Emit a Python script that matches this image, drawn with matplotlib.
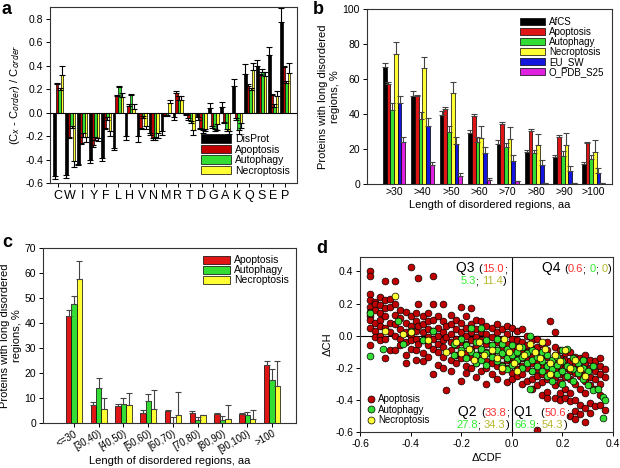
import matplotlib
matplotlib.use("Agg")
import matplotlib.pyplot as plt
import numpy as np
from matplotlib.offsetbox import TextArea, HPacker, VPacker, AnchoredOffsetbox
from matplotlib.lines import Line2D

plt.rcParams['font.family'] = ['Liberation Sans', 'DejaVu Sans']

# ---- panel a: relative composition per residue ----
residues = ['C', 'W', 'I', 'Y', 'F', 'L', 'H', 'V', 'N', 'M',
            'R', 'T', 'D', 'G', 'A', 'K', 'Q', 'S', 'E', 'P']
a_disprot = [-0.54, -0.53, -0.44, -0.40, -0.39, -0.30, -0.20, -0.20, -0.17, -0.16,
             -0.04, -0.01, -0.04, 0.04, 0.05, 0.23, 0.33, 0.40, 0.49, 0.77]
a_disprot_err = [0.03, 0.03, 0.01, 0.03, 0.02, 0.02, 0.03, 0.05, 0.02, 0.03,
                 0.02, 0.01, 0.02, 0.04, 0.04, 0.06, 0.08, 0.05, 0.07, 0.12]
a_apop = [0.24, -0.21, -0.26, -0.28, -0.13, 0.14, 0.06, -0.13, -0.22, -0.02,
          0.17, -0.05, -0.13, -0.11, -0.08, -0.05, 0.23, 0.32, 0.15, 0.39]
a_apop_err = [0.01, 0.01, 0.01, 0.01, 0.01, 0.01, 0.01, 0.01, 0.01, 0.01,
              0.01, 0.01, 0.01, 0.02, 0.01, 0.01, 0.01, 0.01, 0.01, 0.01]
a_auto = [0.19, -0.11, -0.17, -0.21, -0.04, 0.22, 0.15, -0.03, -0.21, -0.02,
          0.11, -0.07, -0.15, -0.14, -0.14, -0.15, 0.19, 0.35, 0.05, 0.25]
a_auto_err = [0.02, 0.02, 0.04, 0.02, 0.02, 0.01, 0.01, 0.02, 0.02, 0.01,
              0.03, 0.02, 0.02, 0.02, 0.02, 0.03, 0.02, 0.02, 0.02, 0.02]
a_necro = [0.32, -0.41, -0.21, -0.22, -0.16, 0.13, 0.03, -0.11, -0.17, 0.08,
           0.11, -0.15, -0.14, -0.10, -0.16, -0.09, 0.36, 0.31, 0.14, 0.34]
a_necro_err = [0.08, 0.05, 0.04, 0.02, 0.04, 0.04, 0.04, 0.03, 0.05, 0.03,
               0.03, 0.04, 0.02, 0.05, 0.02, 0.04, 0.06, 0.04, 0.04, 0.08]

# ---- panel b: proteins with long disordered regions ----
b_labels = ['>30', '>40', '>50', '>60', '>70', '>80', '>90', '>100']
b_afcs = [67, 50.5, 39.5, 29.4, 23, 18, 15.2, 11.4]
b_afcs_err = [2, 2.5, 2, 1.6, 2, 1.5, 1.3, 1.1]
b_apop = [57, 50, 43, 39, 34.3, 30.4, 27, 23.3]
b_apop_err = [1.5, 1, 1, 1, 1, 1.1, 1, 0.8]
b_auto = [42.5, 37, 29.6, 24, 21, 17.5, 16, 14.2]
b_auto_err = [3.5, 4, 3.4, 3, 2.7, 2, 2.6, 2.5]
b_necro = [74, 66.5, 52, 26, 25.6, 22, 22, 18.2]
b_necro_err = [7, 6, 6.5, 7.4, 7.2, 6.6, 7, 7]
b_eusw = [46, 33, 23, 17.6, 13, 10.6, 7.6, 6.3]
b_eusw_err = [4, 4.5, 4, 3.8, 3.7, 2.9, 2.4, 2.7]
b_pdb = [24, 11, 4.7, 2.5, 1.5, 0.6, 0.4, 0.4]
b_pdb_err = [3, 1.5, 1.6, 0.9, 0.3, 0.2, 0.1, 0.1]

# ---- panel c: distribution by length bin ----
c_labels = ['<=30', '[30,40)', '[40,50)', '[50,60)', '[60,70)',
            '[70,80)', '[80,90)', '[90,100)', '>100']
c_apop = [43, 7.3, 6.9, 4.1, 4.8, 4.0, 3.5, 3.7, 23.3]
c_apop_err = [2.3, 1.1, 0.8, 1.0, 0.3, 0.8, 0.6, 0.4, 1.7]
c_auto = [47.5, 14.1, 7.6, 8.7, 0.2, 1.3, 1.3, 3.3, 17.3]
c_auto_err = [3.5, 4.0, 2.4, 2.8, 2.3, 1.1, 1.4, 1.1, 4.4]
c_necro = [57.5, 5.7, 7.2, 5.7, 3.1, 3.1, 1.6, 1.6, 14.7]
c_necro_err = [7.3, 4.4, 4.8, 7.6, 9.2, 0.0, 5.5, 3.5, 10.0]

# ---- panel d: charge-hydropathy vs CDF (columns of points) ----
d_apop_cols = [
    (-0.56, [0.40, 0.37, 0.26, 0.22, 0.18, 0.15, 0.12, 0.10, 0.05, -0.06]),
    (-0.54, [0.21, 0.20, 0.16, 0.08, 0.03, -0.01]),
    (-0.52, [0.24, 0.19, 0.14, 0.10, 0.06, 0.00, -0.03]),
    (-0.50, [0.34, 0.22, 0.17, 0.12, 0.05, -0.02, -0.14]),
    (-0.48, [0.23, 0.18, 0.08, 0.02, -0.09]),
    (-0.46, [0.34, 0.20, 0.13, 0.07, 0.00, -0.09]),
    (-0.44, [0.16, 0.11, 0.04, -0.02, -0.06]),
    (-0.42, [0.15, 0.08, 0.02, -0.04, -0.12, -0.17]),
    (-0.40, [0.43, 0.12, 0.06, 0.00, -0.03, -0.08]),
    (-0.38, [0.14, 0.09, 0.03, -0.02, -0.09, -0.15]),
    (-0.37, [0.36, 0.20, 0.06, -0.05]),
    (-0.35, [0.12, 0.07, 0.02, -0.03, -0.11, -0.16]),
    (-0.33, [0.14, 0.09, 0.04, -0.01, -0.06, -0.13]),
    (-0.31, [0.37, 0.20, 0.10, 0.03, -0.02, -0.08, -0.24]),
    (-0.29, [0.12, 0.05, 0.00, -0.05, -0.10, -0.18]),
    (-0.27, [0.20, 0.09, 0.02, -0.03, -0.07, -0.13, -0.20]),
    (-0.26, [0.06, -0.01, -0.34]),
    (-0.24, [0.13, 0.07, 0.01, -0.04, -0.09, -0.15, -0.22]),
    (-0.22, [0.10, 0.04, -0.02, -0.06, -0.12, -0.17]),
    (-0.20, [0.18, 0.08, 0.02, -0.04, -0.10, -0.14, -0.28]),
    (-0.18, [0.12, 0.05, 0.00, -0.05, -0.11, -0.19, -0.23]),
    (-0.16, [0.17, 0.07, 0.02, -0.03, -0.08, -0.13, -0.20]),
    (-0.14, [0.10, 0.04, -0.01, -0.06, -0.12, -0.17, -0.26]),
    (-0.12, [0.09, 0.02, -0.03, -0.09, -0.14, -0.22]),
    (-0.10, [0.06, 0.01, -0.05, -0.10, -0.16, -0.20, -0.30]),
    (-0.08, [0.05, -0.01, -0.06, -0.12, -0.17, -0.24]),
    (-0.06, [0.07, 0.02, -0.04, -0.09, -0.14, -0.19, -0.27]),
    (-0.04, [0.04, -0.02, -0.07, -0.12, -0.18, -0.22]),
    (-0.02, [0.06, 0.01, -0.05, -0.10, -0.15, -0.20, -0.29]),
    (0.00, [0.05, -0.02, -0.08, -0.13, -0.17, -0.23, -0.27]),
    (0.02, [0.03, -0.03, -0.07, -0.11, -0.16, -0.21, -0.25]),
    (0.04, [0.04, -0.04, -0.09, -0.14, -0.19, -0.24, -0.30]),
    (0.06, [0.00, -0.06, -0.10, -0.15, -0.20, -0.28]),
    (0.08, [-0.03, -0.08, -0.13, -0.17, -0.22, -0.27, -0.33]),
    (0.10, [-0.02, -0.07, -0.11, -0.16, -0.21, -0.25, -0.31, -0.59]),
    (0.12, [-0.05, -0.10, -0.14, -0.19, -0.24, -0.29, -0.37]),
    (0.14, [-0.04, -0.09, -0.13, -0.18, -0.22, -0.27, -0.35, -0.39]),
    (0.15, [0.09]),
    (0.17, [0.025, -0.07, -0.12, -0.16, -0.21, -0.26, -0.31, -0.39]),
    (0.19, [-0.09, -0.14, -0.19, -0.24, -0.29, -0.36, -0.40]),
    (0.21, [-0.11, -0.15, -0.20, -0.26, -0.33, -0.39]),
    (0.23, [-0.10, -0.16, -0.22, -0.27, -0.36, -0.41, -0.50]),
    (0.25, [-0.13, -0.18, -0.23, -0.30, -0.40, -0.47, -0.52]),
    (0.27, [-0.14, -0.20, -0.25, -0.33, -0.43, -0.49]),
    (0.29, [-0.12, -0.17, -0.22, -0.28, -0.36, -0.45, -0.54]),
    (0.31, [-0.15, -0.20, -0.26, -0.31, -0.42, -0.48]),
    (0.33, [-0.16, -0.22, -0.27, -0.33, -0.44]),
    (0.35, [-0.14, -0.19, -0.24, -0.30, -0.37, -0.43]),
    (0.37, [-0.21, -0.26, -0.46]),
]
d_auto_cols = [
    (-0.56, [0.14, -0.125]), (-0.51, [-0.08]), (-0.45, [0.09]), (-0.43, [-0.05]),
    (-0.40, [0.03]), (-0.35, [-0.03]), (-0.31, [0.03]), (-0.23, [-0.05, -0.12]),
    (-0.20, [-0.02, -0.09]), (-0.18, [-0.06, -0.14]), (-0.16, [0.05, -0.10]),
    (-0.14, [-0.04, -0.12, -0.17]), (-0.12, [0.05, -0.08, -0.15]),
    (-0.10, [-0.03, -0.11, -0.18]), (-0.08, [-0.06, -0.13]),
    (-0.06, [-0.02, -0.09, -0.16]), (-0.04, [-0.05, -0.11, -0.19]),
    (-0.02, [-0.08, -0.14, -0.21]), (0.00, [-0.06, -0.12, -0.18]),
    (0.02, [-0.10, -0.15]), (0.04, [-0.07, -0.13, -0.20]), (0.06, [-0.11, -0.17]),
    (0.07, [-0.33, 0.00]), (0.08, [-0.09, -0.15, -0.22]), (0.10, [-0.13, -0.19]),
    (0.12, [-0.10, -0.16, -0.22]), (0.14, [-0.12, -0.19, -0.25]),
    (0.16, [-0.15, -0.21, -0.28]), (0.18, [-0.13, -0.18, -0.24]),
    (0.20, [-0.09, -0.16, -0.22, -0.30]), (0.22, [-0.08, -0.19, -0.25]),
    (0.24, [-0.14, -0.21, -0.28]), (0.26, [-0.17, -0.23]),
    (0.28, [-0.15, -0.20, -0.27]), (0.30, [-0.22, -0.31]), (0.32, [-0.19, -0.34]),
    (0.34, [-0.33]), (0.36, [-0.38, -0.51]), (0.37, [-0.40]),
]
d_necro_x = [-0.46, -0.50, -0.43, -0.40, -0.33, -0.26, -0.22, -0.20, -0.17, -0.15,
             -0.13, -0.11, -0.08, -0.06, -0.04, -0.03, -0.01, 0.01, 0.02, 0.03,
             0.05, 0.07, 0.09, 0.11, 0.12, 0.13, 0.15, 0.15, 0.17, 0.19,
             0.21, 0.23, 0.25, 0.27, 0.29]
d_necro_y = [0.25, 0.03, 0.01, 0.02, -0.03, -0.10, -0.04, -0.11, -0.08, -0.15,
             -0.04, -0.12, -0.09, -0.14, -0.20, -0.02, -0.10, -0.17, -0.22, -0.07,
             -0.12, -0.05, -0.10, -0.14, -0.04, -0.08, -0.17, -0.24, -0.12, -0.16,
             -0.09, -0.20, -0.15, -0.21, -0.25]

BLACK = '#000000'
RED = '#e01515'
GREEN = '#33dd33'
YELLOW = '#ffff33'
BLUE = '#1515e0'
MAGENTA = '#e020e0'
DRED = '#c00000'

fig = plt.figure(figsize=(6.2, 4.68), dpi=100)
W, H = 620.0, 468.0


def px_axes(left, top, right, bottom):
    return fig.add_axes([left / W, 1 - bottom / H, (right - left) / W, (bottom - top) / H])


def one_sided(vals, errs):
    vals = np.asarray(vals, float)
    errs = np.asarray(errs, float)
    lower = np.where(vals < 0, errs, 0)
    upper = np.where(vals >= 0, errs, 0)
    return [lower, upper]


def grouped_bars(ax, series, group_w, ecolor='black'):
    n = len(series)
    bw = group_w / n
    for i, (vals, errs, col, lab) in enumerate(series):
        x = np.arange(len(vals)) - group_w / 2 + bw * (i + 0.5)
        ax.bar(x, vals, bw, color=col, edgecolor='black', linewidth=0.5, label=lab, zorder=2)
        ax.errorbar(x, vals, yerr=one_sided(vals, errs), fmt='none', ecolor=ecolor,
                    elinewidth=0.8, capsize=2, capthick=0.8, zorder=3)


def style(ax):
    ax.tick_params(direction='out', length=3, width=0.7, labelsize=7.5, pad=2)
    for s in ax.spines.values():
        s.set_linewidth(0.8)
        s.set_color('#333333')


# panel a
ax = px_axes(50, 7, 297, 183)
grouped_bars(ax, [(a_disprot, a_disprot_err, BLACK, 'DisProt'),
                  (a_apop, a_apop_err, DRED, 'Apoptosis'),
                  (a_auto, a_auto_err, GREEN, 'Autophagy'),
                  (a_necro, a_necro_err, YELLOW, 'Necroptosis')], 0.85)
ax.axhline(0, color='black', linewidth=0.8, zorder=4)
ax.set_xticks(range(len(residues)))
ax.set_xticklabels(residues)
ax.set_xlim(-0.7, 20.0)
ax.set_ylim(-0.6, 0.9)
ax.set_yticks(np.arange(-0.6, 0.81, 0.2))
ax.set_yticklabels(['%.1f' % v for v in np.arange(-0.6, 0.81, 0.2)])
ax.set_ylabel('(C$_x$ - C$_{order}$) / C$_{order}$', fontsize=8, labelpad=2)
style(ax)
ax.tick_params(axis='x', labelsize=9)
ax.legend(loc='lower right', fontsize=7.5, frameon=False, handlelength=2.8, handleheight=0.9,
          labelspacing=0.05, borderaxespad=0.3, handletextpad=0.4)

# panel b
ax = px_axes(367, 9, 612, 184)
grouped_bars(ax, [(b_afcs, b_afcs_err, BLACK, 'AfCS'),
                  (b_apop, b_apop_err, RED, 'Apoptosis'),
                  (b_auto, b_auto_err, GREEN, 'Autophagy'),
                  (b_necro, b_necro_err, YELLOW, 'Necroptosis'),
                  (b_eusw, b_eusw_err, BLUE, 'EU_SW'),
                  (b_pdb, b_pdb_err, MAGENTA, 'O_PDB_S25')], 0.78, ecolor='#444444')
ax.set_xticks(range(len(b_labels)))
ax.set_xticklabels(b_labels)
ax.set_xlim(-0.95, 7.67)
ax.set_ylim(0, 100)
ax.set_yticks(range(0, 101, 20))
ax.set_xlabel('Length of disordered regions, aa', fontsize=8, labelpad=2)
ax.set_ylabel('Proteins with long disordered\nregions, %', fontsize=8, labelpad=2)
style(ax)
ax.tick_params(axis='x', length=0)
ax.legend(loc='upper right', fontsize=7, frameon=False, handlelength=2.6, handleheight=0.8,
          labelspacing=0.0, borderaxespad=0.4, handletextpad=0.4)

# panel c
ax = px_axes(43, 248, 296, 423)
grouped_bars(ax, [(c_apop, c_apop_err, RED, 'Apoptosis'),
                  (c_auto, c_auto_err, GREEN, 'Autophagy'),
                  (c_necro, c_necro_err, YELLOW, 'Necroptosis')], 0.65, ecolor='#444444')
ax.set_xticks(range(len(c_labels)))
ax.set_xticklabels(c_labels, rotation=30, ha='right', rotation_mode='anchor')
ax.set_xlim(-1.25, 8.97)
ax.set_ylim(0, 70)
ax.set_yticks(range(0, 71, 10))
ax.set_xlabel('Length of disordered regions, aa', fontsize=8)
ax.set_ylabel('Proteins with long disordered\nregions, %', fontsize=8, labelpad=2)
style(ax)
ax.tick_params(axis='x', labelsize=7, pad=1)
ax.xaxis.set_label_coords(0.5, -0.19)
ax.legend(loc='upper right', fontsize=7.5, frameon=False, handlelength=2.6, handleheight=0.8,
          labelspacing=0.0, borderaxespad=0.3, handletextpad=0.4)

# panel d
ax = px_axes(360, 257, 613, 432)
apx = [x for x, ys in d_apop_cols for _ in ys]
apy = [y for _, ys in d_apop_cols for y in ys]
aux = [x for x, ys in d_auto_cols for _ in ys]
auy = [y for _, ys in d_auto_cols for y in ys]
ax.scatter(apx, apy, s=24, c=DRED, edgecolors='black', linewidths=0.5, zorder=2)
ax.scatter(aux, auy, s=24, c=GREEN, edgecolors='black', linewidths=0.5, zorder=3)
ax.scatter(d_necro_x, d_necro_y, s=24, c=YELLOW, edgecolors='black', linewidths=0.5, zorder=4)
ax.axhline(0, color='black', linewidth=0.8, zorder=1)
ax.axvline(0, color='black', linewidth=0.8, zorder=1)
ax.set_xlim(-0.6, 0.4)
ax.set_ylim(-0.6, 0.49)
ax.set_xticks(np.arange(-0.6, 0.41, 0.2))
ax.set_xticklabels(['%.1f' % v for v in np.arange(-0.6, 0.41, 0.2)])
ax.set_yticks(np.arange(-0.6, 0.41, 0.2))
ax.set_yticklabels(['%.1f' % v for v in np.arange(-0.6, 0.41, 0.2)])
ax.set_xlabel('ΔCDF', fontsize=8, labelpad=3)
ax.set_ylabel('ΔCH', fontsize=8, labelpad=2)
style(ax)
handles = [Line2D([], [], marker='o', ls='none', mfc=c, mec='black', mew=0.5, ms=5)
           for c in (DRED, GREEN, YELLOW)]
ax.legend(handles, ['Apoptosis', 'Autophagy', 'Necroptosis'], loc='lower left',
          fontsize=7, frameon=False, handlelength=0.8, labelspacing=0.05,
          borderaxespad=0.3, handletextpad=0.4)

NR, NG, NY = '#ff3030', '#33ee33', '#b8b830'
QS, NS = 10, 8


def line(parts):
    return HPacker(children=[TextArea(t, textprops=dict(color=c, fontsize=s)) for t, c, s in parts],
                   pad=0, sep=0, align='baseline')


def qlabel(lines, loc, xy, align):
    box = VPacker(children=[line(p) for p in lines], pad=0, sep=1, align=align)
    ab = AnchoredOffsetbox(loc=loc, child=box, bbox_to_anchor=xy, bbox_transform=ax.transData,
                           frameon=False, pad=0, borderpad=0)
    ab.set_zorder(10)
    ax.add_artist(ab)


qlabel([[('Q3 ', 'black', QS), ('(', 'black', NS), ('15.0', NR, NS), (';', 'black', NS)],
        [('5.3', NG, NS), ('; ', 'black', NS), ('11.4', NY, NS), (')', 'black', NS)]],
       'upper right', (-0.02, 0.465), 'right')
qlabel([[('Q4 ', 'black', QS), ('(', 'black', NS), ('0.6', NR, NS), ('; ', 'black', NS),
         ('0', NG, NS), ('; ', 'black', NS), ('0', NY, NS), (')', 'black', NS)]],
       'upper right', (0.395, 0.465), 'right')
qlabel([[('Q2 ', 'black', QS), ('(', 'black', NS), ('33.8', NR, NS), (';', 'black', NS)],
        [('27.8', NG, NS), ('; ', 'black', NS), ('34.3', NY, NS), (')', 'black', NS)]],
       'upper right', (-0.01, -0.43), 'right')
qlabel([[('Q1  ', 'black', QS), ('(', 'black', NS), ('50.6', NR, NS), (';', 'black', NS)],
        [('66.9', NG, NS), ('; ', 'black', NS), ('54.3', NY, NS), (')', 'black', NS)]],
       'upper left', (0.01, -0.43), 'left')

# panel letters
for lab, x, y in [('a', 2, 1), ('b', 313, 1), ('c', 2, 234), ('d', 316, 240)]:
    fig.text(x / W, 1 - y / H, lab, fontsize=13, fontweight='bold', va='top', ha='left')

fig.savefig('out.png', dpi=100)
